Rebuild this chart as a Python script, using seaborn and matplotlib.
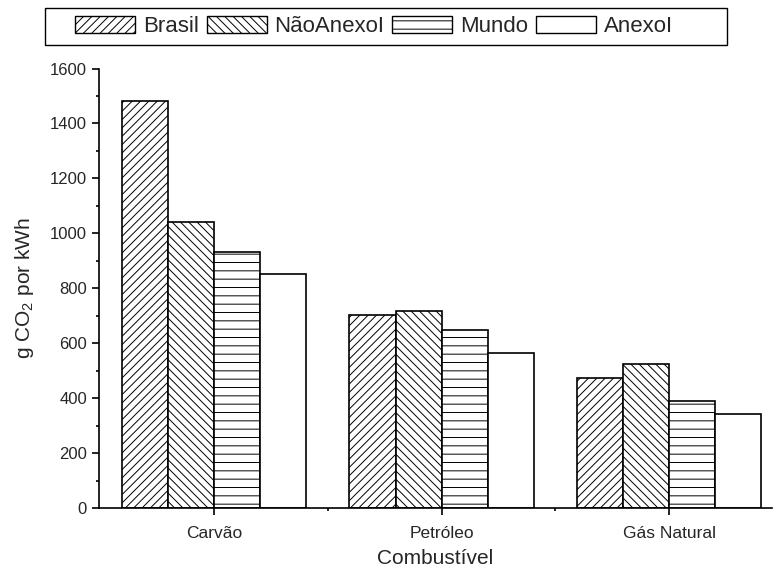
import matplotlib
matplotlib.use("Agg")
import matplotlib.pyplot as plt
import seaborn as sns
import pandas as pd
from matplotlib.ticker import MultipleLocator, FixedLocator

categories = ["Carvão", "Petróleo", "Gás Natural"]
series = ["Brasil", "NãoAnexoI", "Mundo", "AnexoI"]
brasil = [1483, 702, 472]
nao_anexo = [1043, 718, 523]
mundo = [933, 648, 388]
anexo = [851, 563, 344]
values = [brasil, nao_anexo, mundo, anexo]
hatches = ["////", "\\\\\\\\", "--", ""]

rows = []
for s, vals in zip(series, values):
    for c, v in zip(categories, vals):
        rows.append({"Combustível": c, "Série": s, "valor": v})
df = pd.DataFrame(rows)

sns.set_style("ticks")
plt.rcParams["font.family"] = ["Liberation Sans", "DejaVu Sans"]
plt.rcParams["mathtext.default"] = "regular"
plt.rcParams["hatch.linewidth"] = 0.7

fig = plt.figure(figsize=(7.74, 5.71), dpi=100)
ax = fig.add_axes([0.1275, 0.1103, 0.8695, 0.7697])

sns.barplot(data=df, x="Combustível", y="valor", hue="Série", order=categories,
            hue_order=series, palette=["white"] * 4, edgecolor="black",
            linewidth=1.2, width=0.81, ax=ax, legend=False, saturation=1)

for cont, h in zip(ax.containers, hatches):
    for p in cont:
        p.set_hatch(h)
        p.set_edgecolor("black")
        p.set_facecolor("white")

ax.set_xlim(-0.507, 2.45)
ax.set_ylim(0, 1600)
ax.yaxis.set_major_locator(MultipleLocator(200))
ax.yaxis.set_minor_locator(MultipleLocator(100))
ax.xaxis.set_minor_locator(FixedLocator([0.5, 1.5]))
ax.tick_params(axis="both", which="major", direction="out", length=5, width=1.2,
               color="black")
ax.tick_params(axis="both", which="minor", direction="out", length=2.5, width=1.2,
               color="black")
ax.tick_params(axis="y", labelsize=12)
ax.tick_params(axis="x", labelsize=12.5, pad=8)
for sp in ["top", "right"]:
    ax.spines[sp].set_visible(False)
for sp in ["left", "bottom"]:
    ax.spines[sp].set_linewidth(1.2)
    ax.spines[sp].set_color("black")

ax.set_xlabel("Combustível", fontsize=15, labelpad=6)
ax.set_ylabel("g CO$_2$ por kWh", fontsize=15, labelpad=10)

# legend frame (wider than the entries, as in the reference)
frame = plt.Rectangle((45 / 774, 1 - 45 / 571), (727 - 45) / 774, 37 / 571,
                      transform=fig.transFigure, facecolor="white",
                      edgecolor="black", linewidth=1.0, zorder=1)
fig.patches.append(frame)

handles = [plt.Rectangle((0, 0), 1, 1, facecolor="white", edgecolor="black",
                         linewidth=1.0, hatch=h) for h in hatches]
leg = fig.legend(handles, series, loc="center",
                 bbox_to_anchor=(374 / 774, 1 - 26.5 / 571),
                 ncol=4, fontsize=16, frameon=False,
                 handlelength=2.7, handleheight=0.85,
                 handletextpad=0.35, columnspacing=0.35, borderpad=0.2,
                 borderaxespad=0)
leg.set_zorder(2)

fig.savefig("out.png", dpi=100)
